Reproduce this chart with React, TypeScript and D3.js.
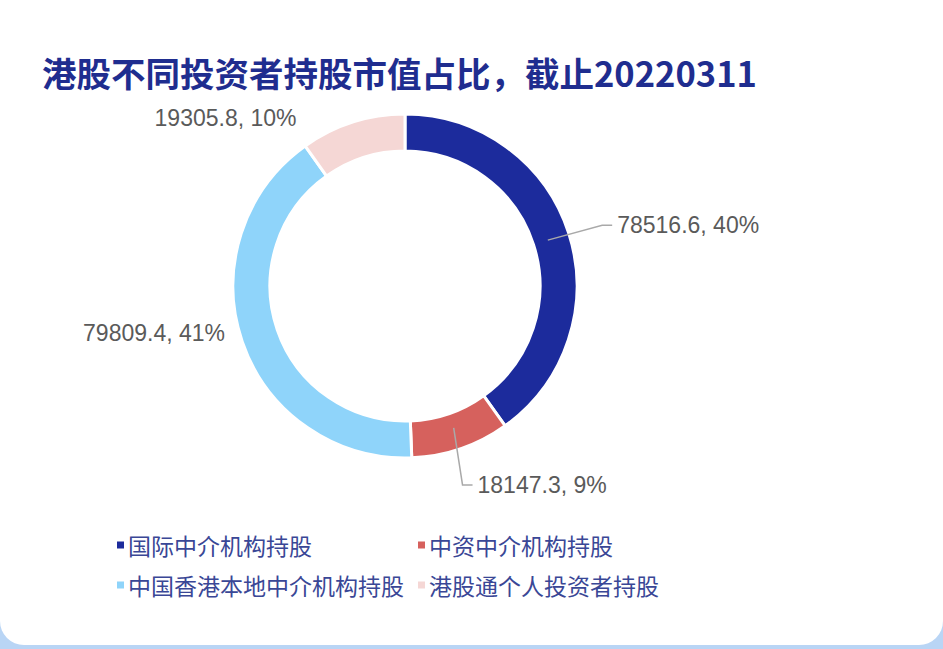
import * as d3 from "d3";

const categories = [
  "国际中介机构持股",
  "中资中介机构持股",
  "中国香港本地中介机构持股",
  "港股通个人投资者持股",
];
const values = [78516.6, 18147.3, 79809.4, 19305.8];
const percentLabels = ["40%", "9%", "41%", "10%"];
const colors = ["#1c2b9c", "#d6615d", "#8fd4fa", "#f5d7d5"];
// label layout: draw leader line or not, nudge from the computed anchor
const labelLine = [true, true, false, false];
const labelNudge = [
  [2, 2],
  [-9, 5],
  [14, -19],
  [-46, 27],
];

const title = "港股不同投资者持股市值占比，截止20220311";

const W = 943;
const H = 649;
const cx = 405;
const cy = 286;
const outerR = 172;
const innerR = 135;

type Datum = { name: string; value: number; pct: string; color: string; i: number };

export default function App() {
  const data: Datum[] = categories.map((name, i) => ({
    name,
    value: values[i],
    pct: percentLabels[i],
    color: colors[i],
    i,
  }));

  const pie = d3
    .pie<Datum>()
    .value((d) => d.value)
    .sort(null)
    .startAngle(0)
    .endAngle(Math.PI * 2);
  const arcs = pie(data);

  const arc = d3.arc<d3.PieArcDatum<Datum>>().innerRadius(innerR).outerRadius(outerR);

  const polar = (a: number, r: number): [number, number] => [
    Math.sin(a) * r,
    -Math.cos(a) * r,
  ];

  return (
    <svg
      width={W}
      height={H}
      style={{ position: "absolute", left: 0, top: 0, display: "block" }}
    >
      <rect x={0} y={0} width={W} height={H} fill="#b9d5f5" />
      <rect x={0} y={0} width={W} height={645} rx={24} fill="#ffffff" />
      <rect x={0} y={0} width={W} height={60} fill="#ffffff" />

      <text
        x={42}
        y={72}
        dominantBaseline="central"
        fontFamily="'Noto Sans CJK SC', 'Noto Sans', sans-serif"
        fontWeight={700}
        fontSize={34.5}
        fill="#1f2d8f"
      >
        {title}
      </text>

      <g transform={`translate(${cx},${cy})`}>
        {arcs.map((a) => (
          <path
            key={a.data.name}
            d={arc(a) || ""}
            fill={a.data.color}
            stroke="#ffffff"
            strokeWidth={3}
          />
        ))}

        {arcs.map((a) => {
          const mid = (a.startAngle + a.endAngle) / 2;
          const right = Math.sin(mid) >= 0;
          const p1 = polar(mid, 150);
          const base = polar(mid, 205);
          const [nx, ny] = labelNudge[a.data.i];
          const p2: [number, number] = [base[0] + nx, base[1] + ny];
          const hasLine = labelLine[a.data.i];
          const p3: [number, number] = hasLine
            ? [p2[0] + (right ? 10 : -10), p2[1]]
            : p2;
          const tx = hasLine ? p3[0] + (right ? 5 : -5) : p3[0];
          const line = d3.line()([p1, p2, p3]) || "";
          return (
            <g key={`lbl-${a.data.name}`}>
              {hasLine && (
                <path d={line} fill="none" stroke="#a9a9a9" strokeWidth={1.5} />
              )}
              <text
                x={tx}
                y={p3[1]}
                dy="0.35em"
                textAnchor={right ? "start" : "end"}
                fontFamily="'Liberation Sans', Arial, sans-serif"
                fontSize={23}
                fill="#5a5a5a"
              >
                {`${a.data.value}, ${a.data.pct}`}
              </text>
            </g>
          );
        })}
      </g>

      <g>
        {data.map((d) => {
          const col = d.i % 2;
          const row = Math.floor(d.i / 2);
          const x = col === 0 ? 117 : 418;
          const y = 545 + row * 40;
          return (
            <g key={`leg-${d.name}`} transform={`translate(${x},${y})`}>
              <rect x={0} y={-3.5} width={7} height={7} fill={d.color} />
              <text
                x={11}
                y={0}
                dominantBaseline="central"
                fontFamily="'Noto Sans CJK SC', 'Noto Sans', sans-serif"
                fontSize={23}
                fill="#3a4796"
              >
                {d.name}
              </text>
            </g>
          );
        })}
      </g>
    </svg>
  );
}
